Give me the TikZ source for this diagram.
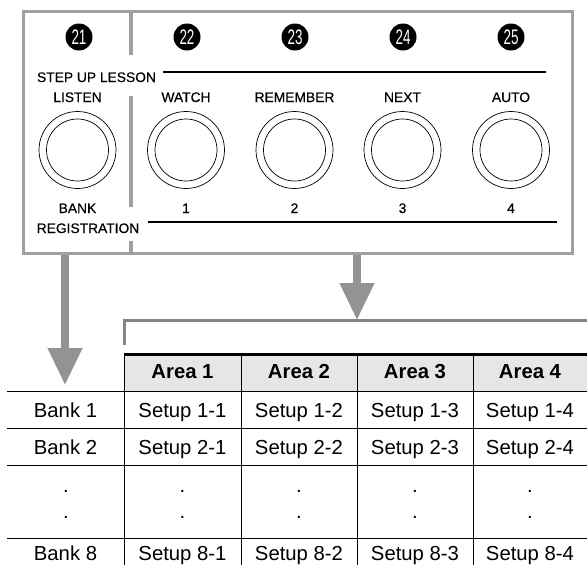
\documentclass[tikz,border=0pt]{standalone}
\usepackage{fontspec}
\setmainfont{Liberation Sans}
\newfontfamily\panelfont[FakeBold=0.4]{Liberation Sans}
\usetikzlibrary{arrows.meta}
\definecolor{panelgray}{HTML}{A0A0A0}
\definecolor{arrowgray}{HTML}{939393}
\definecolor{bracketgray}{HTML}{858585}
\definecolor{headfill}{HTML}{E6E6E6}
\begin{document}
\begin{tikzpicture}[x=1pt,y=-1pt,
  paneltxt/.style={font=\panelfont\fontsize{13.8}{14}\selectfont, inner sep=0, anchor=base},
  tabtxt/.style={font=\fontsize{20.3}{21}\selectfont, inner sep=0, anchor=base},
  tabhead/.style={font=\fontsize{20.3}{21}\selectfont\bfseries, inner sep=0, anchor=base},
  numdot/.style={circle, fill=black, text=white, minimum size=27, inner sep=0,
                 font=\fontsize{21}{21}\selectfont},
  btnout/.style={circle, draw, line width=0.7, minimum size=77, inner sep=0},
  btnin/.style={circle, draw, line width=0.7, minimum size=62, inner sep=0},
  bigarrow/.style={arrowgray, line width=7.5, -{Triangle[width=33pt,length=37pt]}},
  rule/.style={line width=1.4},
  grid/.style={line width=0.9}
]
\useasboundingbox (0,0) rectangle (587,565);

% ---- panel ----
\draw[panelgray, line width=3] (23,11) rectangle (572,253);
\draw[panelgray, line width=3.5] (131,11) -- (131,55) (131,96) -- (131,207) (131,241) -- (131,253);

% circled numbers
\foreach \x/\n in {79/21, 187/22, 295/23, 403/24, 511/25}
  \node[numdot] (num\n) at (\x,37) {\scalebox{0.64}[1]{\n}};

% step up lesson
\node[paneltxt] (steptxt) at (96.5,82) {STEP UP LESSON};
\draw[rule] (163,72) -- (546,72);

% button labels, buttons, lower labels
\foreach \x/\top/\bot/\i in {77.5/LISTEN/BANK/0, 186/WATCH/1/1, 294.5/REMEMBER/2/2, 402.5/NEXT/3/3, 511/AUTO/4/4}{
  \node[paneltxt] (top\i) at (\x,102) {\top};
  \node[btnout] (bo\i) at (\x,150) {};
  \node[btnin] (bi\i) at (\x,150) {};
  \node[paneltxt] (bot\i) at (\x,213) {\bot};
}
\node[paneltxt] (regtxt) at (88,233) {REGISTRATION};
\draw[rule] (148,222) -- (557,222);

% ---- arrows ----
\coordinate (pl) at (65,254.5);
\coordinate (tl) at (65,385);
\coordinate (pr) at (357,254.5);
\coordinate (tr) at (357,320);
\draw[bigarrow] (pl) -- (tl);
\draw[bigarrow] (pr) -- (tr);

% bracket
\draw[bracketgray, line width=3] (124.5,345) -- (124.5,320) -- (587,320);

% ---- table ----
\fill[headfill] (124,355) rectangle (587,391);
\draw[line width=3] (124,354.5) -- (587,354.5);
\draw[grid] (7,391) -- (587,391) (7,428) -- (587,428) (7,465) -- (587,465) (7,538) -- (587,538);
\foreach \x in {124,241,357,473}
  \draw[grid] (\x,356) -- (\x,565);

\foreach \c/\x in {1/182.5, 2/299, 3/415, 4/530}
  \node[tabhead] (area\c) at (\x,378) {Area \c};

\foreach \r/\y in {1/417, 2/454, 8/560.5}{
  \node[tabtxt] (bank\r) at (65.5,\y) {Bank \r};
  \foreach \c/\x in {1/182.5, 2/299, 3/415, 4/530}
    \node[tabtxt] (set\r\c) at (\x,\y) {Setup \r-\c};
}
\foreach \x/\k in {66/0, 182.5/1, 299/2, 415/3, 530/4}{
  \node[tabtxt] (dota\k) at (\x,492) {.};
  \node[tabtxt] (dotb\k) at (\x,518) {.};
}
\end{tikzpicture}
\end{document}
